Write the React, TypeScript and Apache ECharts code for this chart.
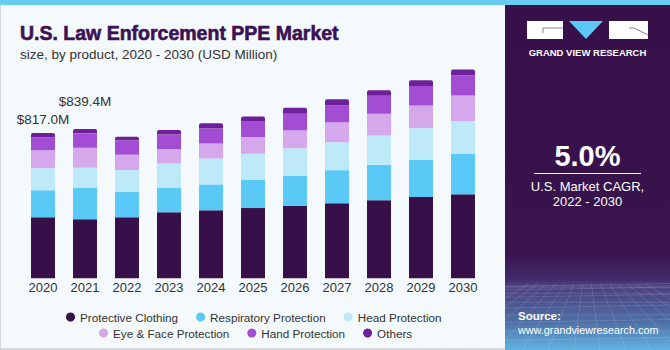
import React, { useEffect, useRef } from "react";
import * as echarts from "echarts";

const years = ["2020", "2021", "2022", "2023", "2024", "2025", "2026", "2027", "2028", "2029", "2030"];
const protectiveClothing = [343, 332, 343, 371, 382, 395, 408, 422, 439, 457, 472];
const respiratoryProtection = [152, 176, 142, 137, 146, 159, 169, 186, 199, 210, 227];
const headProtection = [124, 114, 124, 137, 146, 146, 154, 157, 165, 177, 184];
const eyeFaceProtection = [101, 112, 86, 81, 84, 94, 101, 112, 122, 127, 145];
const handProtection = [73, 81, 81, 82, 84, 88, 93, 96, 101, 111, 112];
const others = [24, 24, 20, 26, 30, 28, 34, 34, 32, 32, 34];
const totalLabels = ["$817.0M", "$839.4M"];
const labelDistances = [7, 21];

const seriesNames = [
  "Protective Clothing",
  "Respiratory Protection",
  "Head Protection",
  "Eye & Face Protection",
  "Hand Protection",
  "Others",
];
const seriesColors = ["#37104A", "#5BC9F5", "#BDE9F9", "#D5A8EC", "#A34DD5", "#6E1F9A"];
const seriesData = [protectiveClothing, respiratoryProtection, headProtection, eyeFaceProtection, handProtection, others];

const FONT = "Liberation Sans, Arial, sans-serif";

export default function App() {
  const ref = useRef<HTMLDivElement>(null);
  useEffect(() => {
    if (!ref.current) return;
    const chart = echarts.init(ref.current, null, { renderer: "svg" });

    const series: any[] = seriesData.map((arr, si) => {
      const isTop = si === seriesData.length - 1;
      return {
        name: seriesNames[si],
        type: "bar",
        stack: "total",
        barWidth: 24,
        itemStyle: {
          color: seriesColors[si],
          borderRadius: isTop ? [2, 2, 0, 0] : 0,
        },
        data: arr.map((v, i) => {
          if (isTop && i < totalLabels.length) {
            return {
              value: v,
              label: {
                show: true,
                position: "top",
                distance: labelDistances[i],
                formatter: totalLabels[i],
                color: "#333333",
                fontSize: 13.5,
                lineHeight: 14,
                fontFamily: FONT,
              },
            };
          }
          return v;
        }),
      };
    });

    const panelX = 505;
    const white = "#FFFFFF";

    chart.setOption({
      animation: false,
      backgroundColor: "#F4F9FC",
      title: {
        text: "U.S. Law Enforcement PPE Market",
        subtext: "size, by product, 2020 - 2030 (USD Million)",
        left: 15,
        top: 18,
        itemGap: 4,
        textStyle: { fontFamily: FONT, fontSize: 19.5, fontWeight: 900, color: "#3B1253", lineHeight: 20, textBorderColor: "#3B1253", textBorderWidth: 0.6 },
        subtextStyle: { fontFamily: FONT, fontSize: 13.5, color: "#333333", lineHeight: 14 },
      },
      legend: [
        {
          data: seriesNames.slice(0, 3),
          left: 61,
          top: 306,
          icon: "circle",
          itemWidth: 9,
          itemHeight: 9,
          itemGap: 18,
          textStyle: { fontFamily: FONT, fontSize: 11.7, color: "#333333" },
        },
        {
          data: seriesNames.slice(3),
          left: 94,
          top: 322,
          icon: "circle",
          itemWidth: 9,
          itemHeight: 9,
          itemGap: 18,
          textStyle: { fontFamily: FONT, fontSize: 11.7, color: "#333333" },
        },
      ],
      grid: { left: 22, right: 186, top: 56, bottom: 71.7, containLabel: false },
      xAxis: {
        type: "category",
        data: years,
        axisLine: { show: false },
        axisTick: { show: false },
        axisLabel: { margin: 3, fontFamily: FONT, fontSize: 13, color: "#333333" },
      },
      yAxis: {
        type: "value",
        min: 0,
        max: 1250,
        show: false,
        splitLine: { show: false },
      },
      series,
      graphic: [
        { type: "rect", shape: { x: 0, y: 0, width: 1, height: 350 }, style: { fill: "#D5D8DA" }, z: 100 },
        { type: "rect", shape: { x: 0, y: 348, width: 670, height: 2 }, style: { fill: "#D5D8DA" }, z: 100 },
        {
          type: "rect",
          shape: { x: panelX, y: 0, width: 670 - panelX, height: 350 },
          style: {
            fill: new echarts.graphic.LinearGradient(0, 0, 0, 1, [
              { offset: 0, color: "#37104A" },
              { offset: 0.72, color: "#38134C" },
              { offset: 0.8, color: "#432C6C" },
              { offset: 0.81, color: "#4A3A7A" },
              { offset: 0.92, color: "#4F6FA6" },
              { offset: 1, color: "#5FB4E2" },
            ]),
          },
          z: 100,
        },
        ...Array.from({ length: 12 }, (_, k) => ({
          type: "line",
          shape: { x1: panelX, y1: 286 + k * k * 0.45, x2: 670, y2: 286 + k * k * 0.45 - (k % 2) * 3 },
          style: { stroke: "rgba(255,255,255,0.13)", lineWidth: 1 },
          z: 101,
        })),
        ...Array.from({ length: 14 }, (_, k) => ({
          type: "line",
          shape: { x1: 587 + (k - 6.5) * 9, y1: 284, x2: 587 + (k - 6.5) * 26, y2: 350 },
          style: { stroke: "rgba(255,255,255,0.12)", lineWidth: 1 },
          z: 101,
        })),
        { type: "rect", shape: { x: 0, y: 0, width: 670, height: 5 }, style: { fill: "#68CBF0" }, z: 110 },
        { type: "rect", shape: { x: 527, y: 21, width: 36, height: 18 }, style: { fill: white }, z: 110 },
        { type: "polyline", shape: { points: [[543, 33], [543, 28], [563, 28]] }, style: { stroke: "#8E7F9A", lineWidth: 1, fill: null }, z: 111 },
        { type: "polygon", shape: { points: [[569, 21], [603, 21], [586, 39]] }, style: { fill: "#5BC8F5" }, z: 110 },
        { type: "rect", shape: { x: 609, y: 21, width: 39, height: 18 }, style: { fill: white }, z: 110 },
        { type: "polyline", shape: { points: [[629, 28], [634, 28], [648, 35]] }, style: { stroke: "#8E7F9A", lineWidth: 1, fill: null }, z: 111 },
        {
          type: "text",
          style: { text: "GRAND VIEW RESEARCH", x: 587.5, y: 52, align: "center", verticalAlign: "middle", fill: white, font: `bold 9.5px ${FONT}` },
          z: 110,
        },
        {
          type: "text",
          style: { text: "5.0%", x: 587.5, y: 155.5, align: "center", verticalAlign: "middle", fill: white, font: `bold 29px ${FONT}` },
          z: 110,
        },
        { type: "line", shape: { x1: 534, y1: 173.5, x2: 641, y2: 173.5 }, style: { stroke: white, lineWidth: 1.2 }, z: 110 },
        {
          type: "text",
          style: { text: "U.S. Market CAGR,", x: 587.5, y: 186, align: "center", verticalAlign: "middle", fill: white, font: `13px ${FONT}` },
          z: 110,
        },
        {
          type: "text",
          style: { text: "2022 - 2030", x: 587.5, y: 201, align: "center", verticalAlign: "middle", fill: white, font: `13px ${FONT}` },
          z: 110,
        },
        {
          type: "text",
          style: { text: "Source:", x: 518, y: 316, align: "left", verticalAlign: "middle", fill: white, font: `bold 11.5px ${FONT}` },
          z: 110,
        },
        {
          type: "text",
          style: { text: "www.grandviewresearch.com", x: 518, y: 330, align: "left", verticalAlign: "middle", fill: white, font: `10.8px ${FONT}` },
          z: 110,
        },
      ],
    });
    return () => chart.dispose();
  }, []);
  return <div ref={ref} style={{ position: "fixed", left: 0, top: 0, width: 670, height: 350 }} />;
}
